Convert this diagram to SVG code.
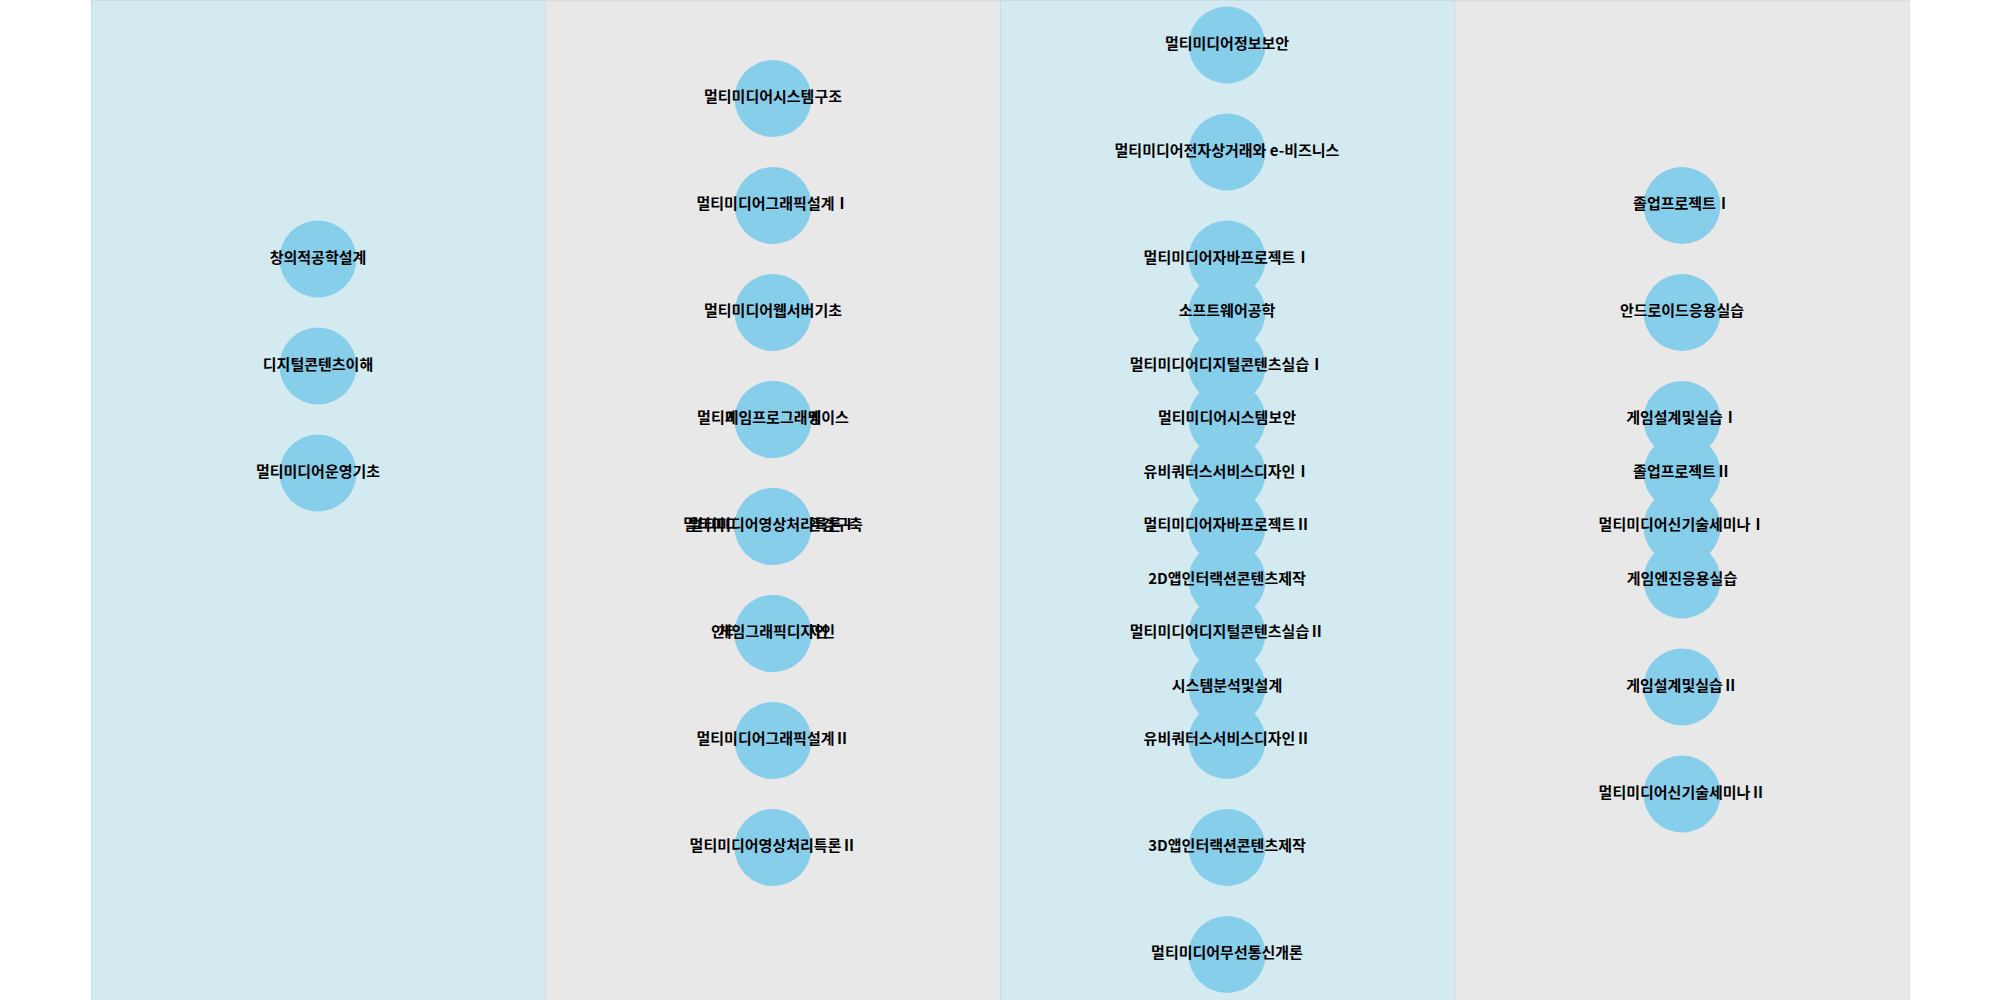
<svg xmlns="http://www.w3.org/2000/svg" width="2000" height="1000" viewBox="0 0 2000 1000">
<style>
.lane-a{fill:#d4eaf1;stroke:#c4dde6;stroke-width:1}
.lane-b{fill:#e8e8e8;stroke:#d8dfe2;stroke-width:1}
.node circle{fill:#87ceeb}
.node text{font-family:"Noto Sans CJK KR","Noto Sans",sans-serif;font-size:15px;font-weight:600;fill:#000;text-anchor:middle;dominant-baseline:central}
</style>
<rect width="2000" height="1000" fill="#ffffff"/>
<g id="lanes">
<rect class="lane-a" x="91.5" y="0.5" width="454" height="1005"/>
<rect class="lane-b" x="545.5" y="0.5" width="455" height="1005"/>
<rect class="lane-a" x="1000.5" y="0.5" width="455" height="1005"/>
<rect class="lane-b" x="1455.5" y="0.5" width="454" height="1005"/>
</g>
<g id="connectors"></g>
<g id="nodes">
<g id="n-c1-1" class="node"><circle cx="318" cy="259" r="38.5"/><text x="318" y="256">창의적공학설계</text></g>
<g id="n-c1-2" class="node"><circle cx="318" cy="366" r="38.5"/><text x="318" y="363">디지털콘텐츠이해</text></g>
<g id="n-c1-3" class="node"><circle cx="318" cy="473" r="38.5"/><text x="318" y="470">멀티미디어운영기초</text></g>

<g id="n-c2-1" class="node"><circle cx="773" cy="98.5" r="38.5"/><text x="773" y="95.5">멀티미디어시스템구조</text></g>
<g id="n-c2-2" class="node"><circle cx="773" cy="205.5" r="38.5"/><text x="773" y="202.5">멀티미디어그래픽설계Ⅰ</text></g>
<g id="n-c2-3" class="node"><circle cx="773" cy="312.5" r="38.5"/><text x="773" y="309.5">멀티미디어웹서버기초</text></g>
<g id="n-c2-4" class="node"><circle cx="773" cy="419.5" r="38.5"/><text x="773" y="416.5">멀티미디어데이터베이스</text></g>
<g id="n-c2-5" class="node"><circle cx="773" cy="419.5" r="38.5"/><text x="773" y="416.5">게임프로그래밍</text></g>
<g id="n-c2-6" class="node"><circle cx="773" cy="526.5" r="38.5"/><text x="773" y="523.5">멀티미디어웹서비스환경구축</text></g>
<g id="n-c2-7" class="node"><circle cx="773" cy="526.5" r="38.5"/><text x="773" y="523.5">멀티미디어영상처리특론Ⅰ</text></g>
<g id="n-c2-8" class="node"><circle cx="773" cy="633.5" r="38.5"/><text x="773" y="630.5">인터랙티브웹디자인</text></g>
<g id="n-c2-9" class="node"><circle cx="773" cy="633.5" r="38.5"/><text x="773" y="630.5">게임그래픽디자인</text></g>
<g id="n-c2-10" class="node"><circle cx="773" cy="740.5" r="38.5"/><text x="773" y="737.5">멀티미디어그래픽설계Ⅱ</text></g>
<g id="n-c2-11" class="node"><circle cx="773" cy="847.5" r="38.5"/><text x="773" y="844.5">멀티미디어영상처리특론Ⅱ</text></g>

<g id="n-c3-1" class="node"><circle cx="1227" cy="45" r="38.5"/><text x="1227" y="42">멀티미디어정보보안</text></g>
<g id="n-c3-2" class="node"><circle cx="1227" cy="152" r="38.5"/><text x="1227" y="149">멀티미디어전자상거래와 e-비즈니스</text></g>
<g id="n-c3-3" class="node"><circle cx="1227" cy="259" r="38.5"/><text x="1227" y="256">멀티미디어자바프로젝트Ⅰ</text></g>
<g id="n-c3-4" class="node"><circle cx="1227" cy="312.5" r="38.5"/><text x="1227" y="309.5">소프트웨어공학</text></g>
<g id="n-c3-5" class="node"><circle cx="1227" cy="366" r="38.5"/><text x="1227" y="363">멀티미디어디지털콘텐츠실습Ⅰ</text></g>
<g id="n-c3-6" class="node"><circle cx="1227" cy="419.5" r="38.5"/><text x="1227" y="416.5">멀티미디어시스템보안</text></g>
<g id="n-c3-7" class="node"><circle cx="1227" cy="473" r="38.5"/><text x="1227" y="470">유비쿼터스서비스디자인Ⅰ</text></g>
<g id="n-c3-8" class="node"><circle cx="1227" cy="526.5" r="38.5"/><text x="1227" y="523.5">멀티미디어자바프로젝트Ⅱ</text></g>
<g id="n-c3-9" class="node"><circle cx="1227" cy="580" r="38.5"/><text x="1227" y="577">2D앱인터랙션콘텐츠제작</text></g>
<g id="n-c3-10" class="node"><circle cx="1227" cy="633.5" r="38.5"/><text x="1227" y="630.5">멀티미디어디지털콘텐츠실습Ⅱ</text></g>
<g id="n-c3-11" class="node"><circle cx="1227" cy="687" r="38.5"/><text x="1227" y="684">시스템분석및설계</text></g>
<g id="n-c3-12" class="node"><circle cx="1227" cy="740.5" r="38.5"/><text x="1227" y="737.5">유비쿼터스서비스디자인Ⅱ</text></g>
<g id="n-c3-13" class="node"><circle cx="1227" cy="847.5" r="38.5"/><text x="1227" y="844.5">3D앱인터랙션콘텐츠제작</text></g>
<g id="n-c3-14" class="node"><circle cx="1227" cy="954.5" r="38.5"/><text x="1227" y="951.5">멀티미디어무선통신개론</text></g>

<g id="n-c4-1" class="node"><circle cx="1682" cy="205.5" r="38.5"/><text x="1682" y="202.5">졸업프로젝트Ⅰ</text></g>
<g id="n-c4-2" class="node"><circle cx="1682" cy="312.5" r="38.5"/><text x="1682" y="309.5">안드로이드응용실습</text></g>
<g id="n-c4-3" class="node"><circle cx="1682" cy="419.5" r="38.5"/><text x="1682" y="416.5">게임설계및실습Ⅰ</text></g>
<g id="n-c4-4" class="node"><circle cx="1682" cy="473" r="38.5"/><text x="1682" y="470">졸업프로젝트Ⅱ</text></g>
<g id="n-c4-5" class="node"><circle cx="1682" cy="526.5" r="38.5"/><text x="1682" y="523.5">멀티미디어신기술세미나Ⅰ</text></g>
<g id="n-c4-6" class="node"><circle cx="1682" cy="580" r="38.5"/><text x="1682" y="577">게임엔진응용실습</text></g>
<g id="n-c4-7" class="node"><circle cx="1682" cy="687" r="38.5"/><text x="1682" y="684">게임설계및실습Ⅱ</text></g>
<g id="n-c4-8" class="node"><circle cx="1682" cy="794" r="38.5"/><text x="1682" y="791">멀티미디어신기술세미나Ⅱ</text></g>
</g>
</svg>
